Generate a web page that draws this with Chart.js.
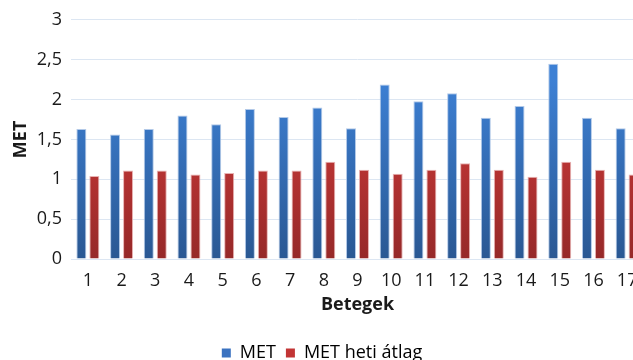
<!DOCTYPE html>
<html>
<head>
<meta charset="utf-8">
<script src="https://cdn.jsdelivr.net/npm/chart.js@4/dist/chart.umd.min.js"></script>
<style>
  html, body { margin: 0; padding: 0; background: #fff; overflow: hidden; }
  #wrap { width: 676px; height: 360px; }
</style>
</head>
<body>
<div id="wrap"><canvas id="c" width="676" height="360"></canvas></div>
<script>
// Patients 1–17: measured MET and weekly average MET
const betegek = ['1','2','3','4','5','6','7','8','9','10','11','12','13','14','15','16','17'];
const met = [1.63, 1.56, 1.63, 1.80, 1.69, 1.88, 1.78, 1.90, 1.64, 2.19, 1.98, 2.08, 1.77, 1.92, 2.45, 1.77, 1.64];
const metHetiAtlag = [1.04, 1.11, 1.11, 1.06, 1.08, 1.11, 1.11, 1.22, 1.12, 1.07, 1.12, 1.20, 1.12, 1.03, 1.22, 1.12, 1.06];
const yTicks = [0, 0.5, 1, 1.5, 2, 2.5, 3];

const FONT = '"Open Sans", "Noto Sans", sans-serif';
const FS = 18;

// vertical gradient fill for bars, lighter at the top
function grad(top, bottom) {
  return (ctx) => {
    const { chart } = ctx;
    const area = chart.chartArea;
    if (!area) return top;
    const y0 = chart.scales.y.getPixelForValue(0);
    const g = chart.ctx.createLinearGradient(0, area.top + 60, 0, y0);
    g.addColorStop(0, top);
    g.addColorStop(1, bottom);
    return g;
  };
}

new Chart(document.getElementById('c'), {
  type: 'bar',
  data: {
    labels: betegek,
    datasets: [
      {
        label: 'MET',
        data: met,
        backgroundColor: grad('#3d80d4', '#2a5893'),
        borderColor: 'rgba(170,195,230,0.9)',
        borderWidth: 1,
        categoryPercentage: 0.77,
        barPercentage: 0.77
      },
      {
        label: 'MET heti átlag',
        data: metHetiAtlag,
        backgroundColor: grad('#d43c3b', '#962929'),
        borderColor: 'rgba(230,170,170,0.9)',
        borderWidth: 1,
        categoryPercentage: 0.77,
        barPercentage: 0.77
      }
    ]
  },
  options: {
    responsive: false,
    animation: false,
    layout: { padding: { left: 0, right: 32, top: 8, bottom: -12 } },
    plugins: {
      tooltip: { enabled: false },
      legend: {
        position: 'bottom',
        labels: {
          font: { family: FONT, size: FS },
          color: '#1a1a1a',
          boxWidth: 9,
          boxHeight: 9,
          padding: 10,
          generateLabels: (chart) => chart.data.datasets.map((ds, i) => ({
            text: ds.label,
            fillStyle: i === 0 ? '#3a72c0' : '#c23535',
            strokeStyle: 'rgba(0,0,0,0)',
            lineWidth: 0,
            datasetIndex: i
          }))
        }
      }
    },
    scales: {
      x: {
        grid: { display: false, drawTicks: false },
        border: { display: true, color: '#dce6f2' },
        ticks: { font: { family: FONT, size: FS }, color: '#1a1a1a', padding: 11, maxRotation: 0, autoSkip: false },
        title: {
          display: true,
          text: 'Betegek',
          font: { family: FONT, size: FS, weight: 'bold' },
          color: '#1a1a1a',
          padding: { top: 4, bottom: 18 }
        },
        afterFit: (s) => { s.height = 75; }
      },
      y: {
        min: 0,
        max: 3,
        afterBuildTicks: (s) => { s.ticks = yTicks.map(v => ({ value: v })); },
        grid: { color: '#dce6f2', drawTicks: false },
        border: { display: false },
        ticks: {
          font: { family: FONT, size: FS },
          color: '#1a1a1a',
          padding: 9,
          callback: (v) => String(v).replace('.', ',')
        },
        title: {
          display: true,
          text: 'MET',
          font: { family: FONT, size: FS, weight: 'bold' },
          color: '#1a1a1a',
          padding: { top: 10, bottom: 6 }
        },
        afterFit: (s) => { s.width = 71; }
      }
    }
  }
});
</script>
</body>
</html>
